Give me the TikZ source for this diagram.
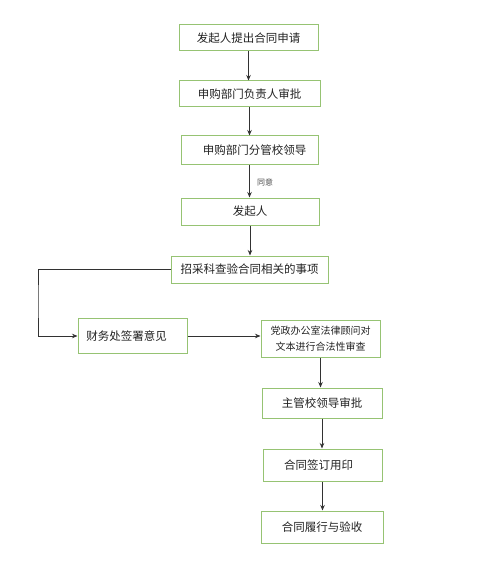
\documentclass[tikz,border=0pt]{standalone}
\usepackage{fontspec}
\newfontfamily\cjk{Noto Sans CJK SC}
\usetikzlibrary{arrows.meta}
\definecolor{boxgreen}{RGB}{150,195,115}
\definecolor{linegray}{RGB}{50,50,50}
\definecolor{txtgray}{RGB}{35,35,35}
\tikzset{
  box/.style={draw=boxgreen, line width=1pt, fill=white, inner sep=0pt, align=center,
    font=\cjk\fontsize{11.5}{14}\selectfont, text=txtgray},
  arr/.style={draw=linegray, line width=0.8pt, -{Stealth[length=5.5pt,width=4.5pt]}},
  lbl/.style={font=\cjk\fontsize{8}{10}\selectfont, text=txtgray!80}
}
\begin{document}
\begin{tikzpicture}[x=1pt,y=-1pt]
\useasboundingbox (0,0) rectangle (500,569);
\node[box, minimum width=139pt, minimum height=26pt] (b1) at (248.5,38) {发起人提出合同申请};
\node[box, minimum width=141pt, minimum height=26pt] (b2) at (249.5,94) {申购部门负责人审批};
\node[box, minimum width=137pt, minimum height=29pt] (b3) at (249.5,150.5) {\hspace*{10pt}申购部门分管校领导};
\node[box, minimum width=138pt, minimum height=27pt] (b4) at (250,211.5) {发起人};
\node[box, minimum width=157pt, minimum height=27pt] (b5) at (249.5,269.5) {招采科查验合同相关的事项};
\node[box, minimum width=109pt, minimum height=35pt] (b6) at (132.5,336) {财务处签署意见\hspace*{12pt}};
\node[box, minimum width=119pt, minimum height=37pt, font=\cjk\fontsize{10}{16}\selectfont] (b7) at (320.5,338.5) {党政办公室法律顾问对\\文本进行合法性审查};
\node[box, minimum width=120pt, minimum height=30pt] (b8) at (322,403) {主管校领导审批};
\node[box, minimum width=119pt, minimum height=32pt] (b9) at (322.5,465) {合同签订用印\hspace*{8pt}};
\node[box, minimum width=122pt, minimum height=32pt] (b10) at (322,527) {合同履行与验收};
\coordinate (c) at (38,300);
\node[lbl] (l1) at (265,182) {同意};
\draw[arr] (b1.south) -- (b1.south |- b2.north);
\draw[arr] (b2.south) -- (b2.south |- b3.north);
\draw[arr] (b3.south) -- (b3.south |- b4.north);
\draw[arr] (b4.south) -- (b4.south |- b5.north);
\draw[arr] (b5.west) -| (c) |- (b6.west);
\draw[arr] (b6.east) -- (b6.east -| b7.west);
\draw[arr] (b7.south) -- (b7.south |- b8.north);
\draw[arr] (b8.south) -- (b8.south |- b9.north);
\draw[arr] (b9.south) -- (b9.south |- b10.north);
\end{tikzpicture}
\end{document}
